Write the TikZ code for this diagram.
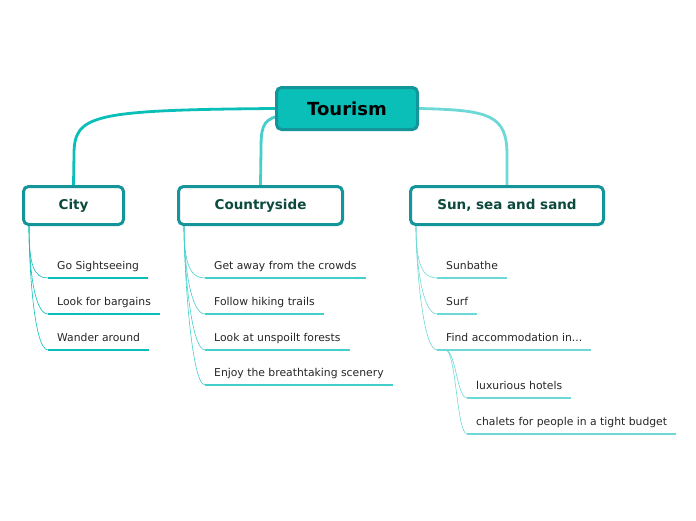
\documentclass[tikz,border=0pt]{standalone}
\usepackage{fontspec}
\setmainfont{DejaVu Sans}
\usepackage{xcolor}
\usetikzlibrary{positioning,calc,backgrounds}
\definecolor{tealfill}{HTML}{0ABFB8}
\definecolor{tealline}{HTML}{14959A}
\definecolor{darkgreen}{HTML}{0B4A3C}
\definecolor{citycol}{HTML}{0ABFB8}
\definecolor{countrycol}{HTML}{45CFCB}
\definecolor{suncol}{HTML}{6DD9D6}

\begin{document}
\begin{tikzpicture}[
    x=1pt, y=-1pt,
    central/.style={rectangle, draw=tealline, fill=tealfill, line width=3pt, rounded corners=5pt, minimum width=141pt, minimum height=42pt, font=\fontsize{18}{20}\selectfont\bfseries},
    topic/.style={rectangle, draw=tealline, fill=white, line width=3pt, rounded corners=5pt, minimum height=38pt, text=darkgreen, font=\fontsize{13.5}{16}\selectfont\bfseries},
    sub/.style={anchor=south west, inner xsep=9pt, inner ysep=8pt, text depth=0pt, text=black!85, font=\fontsize{10.8}{13}\selectfont},
    link/.style={line width=2.8pt, line cap=round},
    branch/.style={line width=0.6pt},
    uline/.style={line width=2pt}
]
\useasboundingbox (0,0) rectangle (696,520);

\node[central] (tourism) at (347,108.5) {Tourism};
\node[topic, minimum width=100pt] (city) at (73.5,205.5) {City};
\node[topic, minimum width=164pt] (countryside) at (260.5,205.5) {Countryside};
\node[topic, minimum width=193pt] (sun) at (507,205.5) {Sun, sea and sand};

% city
\node[sub] (sight) at (48,278) {Go Sightseeing};
\node[sub] (bargains) at (48,314) {Look for bargains};
\node[sub] (wander) at (48,350) {Wander around};

% countryside
\node[sub] (crowds) at (205,278) {Get away from the crowds};
\node[sub] (hiking) at (205,314) {Follow hiking trails};
\node[sub] (forests) at (205,350) {Look at unspoilt forests};
\node[sub] (scenery) at (205,385) {Enjoy the breathtaking scenery};

% sun, sea and sand
\node[sub] (sunbathe) at (437,278) {Sunbathe};
\node[sub] (surf) at (437,314) {Surf};
\node[sub] (accom) at (437,350) {Find accommodation in...};
\node[sub] (hotels) at (467,398) {luxurious hotels};
\node[sub] (chalets) at (467,434) {chalets for people in a tight budget};

\coordinate (cityroot) at ($(city.south west)+(7,0)$);
\coordinate (countryroot) at ($(countryside.south west)+(7,0)$);
\coordinate (sunroot) at ($(sun.south west)+(7,0)$);
\coordinate (accomroot) at ($(accom.south west)+(9,0)$);

\begin{scope}[on background layer]
\draw[link, citycol] (tourism.west) .. controls (90,110) and (74,115) .. (74,155) -- (city.north);
\draw[link, countrycol] ($(tourism.west)+(2,8)$) .. controls (262,120) and (261,130) .. (261,150) -- (countryside.north);
\draw[link, suncol] (tourism.east) .. controls (490,110) and (507,115) .. (507,155) -- (sun.north);
\end{scope}

\draw[branch, citycol] (cityroot) .. controls +(0,40) and +(-14,0) .. (sight.south west);
\draw[branch, citycol] (cityroot) .. controls +(0,40) and +(-14,0) .. (bargains.south west);
\draw[branch, citycol] (cityroot) .. controls +(0,40) and +(-14,0) .. (wander.south west);
\draw[uline, citycol] (sight.south west) -- (sight.south east);
\draw[uline, citycol] (bargains.south west) -- (bargains.south east);
\draw[uline, citycol] (wander.south west) -- (wander.south east);

\draw[branch, countrycol] (countryroot) .. controls +(0,40) and +(-14,0) .. (crowds.south west);
\draw[branch, countrycol] (countryroot) .. controls +(0,40) and +(-14,0) .. (hiking.south west);
\draw[branch, countrycol] (countryroot) .. controls +(0,40) and +(-14,0) .. (forests.south west);
\draw[branch, countrycol] (countryroot) .. controls +(0,40) and +(-14,0) .. (scenery.south west);
\draw[uline, countrycol] (crowds.south west) -- (crowds.south east);
\draw[uline, countrycol] (hiking.south west) -- (hiking.south east);
\draw[uline, countrycol] (forests.south west) -- (forests.south east);
\draw[uline, countrycol] (scenery.south west) -- (scenery.south east);

\draw[branch, suncol] (sunroot) .. controls +(0,40) and +(-14,0) .. (sunbathe.south west);
\draw[branch, suncol] (sunroot) .. controls +(0,40) and +(-14,0) .. (surf.south west);
\draw[branch, suncol] (sunroot) .. controls +(0,40) and +(-14,0) .. (accom.south west);
\draw[branch, suncol] (accomroot) .. controls +(10,2) and +(-10,0) .. (hotels.south west);
\draw[branch, suncol] (accomroot) .. controls +(10,2) and +(-10,0) .. (chalets.south west);
\draw[uline, suncol] (sunbathe.south west) -- (sunbathe.south east);
\draw[uline, suncol] (surf.south west) -- (surf.south east);
\draw[uline, suncol] (accom.south west) -- (accom.south east);
\draw[uline, suncol] (hotels.south west) -- (hotels.south east);
\draw[uline, suncol] (chalets.south west) -- (chalets.south east);

\end{tikzpicture}
\end{document}
